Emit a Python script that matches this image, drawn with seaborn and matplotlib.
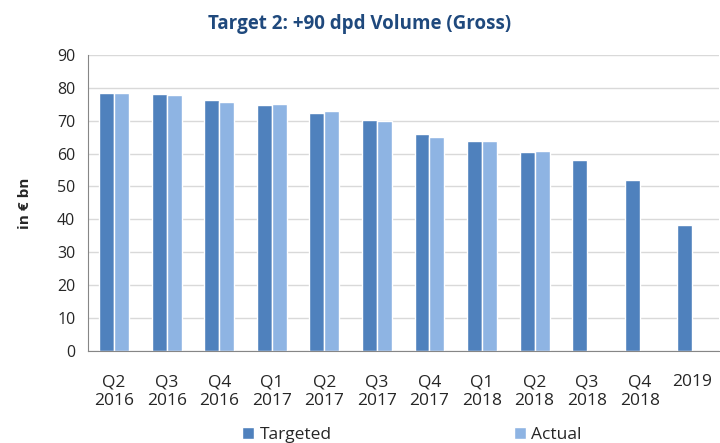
import matplotlib
matplotlib.use('Agg')
import matplotlib.pyplot as plt
import numpy as np
import pandas as pd
import seaborn as sns

# values (in € bn)
periods = ['Q2\n2016', 'Q3\n2016', 'Q4\n2016', 'Q1\n2017', 'Q2\n2017', 'Q3\n2017',
           'Q4\n2017', 'Q1\n2018', 'Q2\n2018', 'Q3\n2018', 'Q4\n2018', '2019']
targeted = [78.4, 78.1, 76.3, 74.8, 72.3, 70.2, 65.9, 63.9, 60.5, 58.0, 52.0, 38.4]
actual = [78.4, 77.8, 75.8, 75.0, 72.8, 69.9, 65.0, 63.9, 60.8, np.nan, np.nan, np.nan]

df = pd.DataFrame({
    'period': periods * 2,
    'value': targeted + actual,
    'series': ['Targeted'] * len(periods) + ['Actual'] * len(periods),
})

sns.set_style('white')
plt.rcParams['font.family'] = ['Open Sans', 'DejaVu Sans']

fig = plt.figure(figsize=(7.2, 4.43), dpi=100)
ax = fig.add_axes([0.122, 0.208, 0.876, 0.668])

sns.barplot(data=df, x='period', y='value', hue='series', order=periods,
            hue_order=['Targeted', 'Actual'],
            palette={'Targeted': '#4F81BD', 'Actual': '#8EB4E3'},
            width=0.57, gap=0, saturation=1, ax=ax, legend=True)

ax.set_ylim(0, 90)
ax.set_xlim(-0.5, len(periods) - 0.5)
ax.set_yticks(range(0, 91, 10))
ax.yaxis.grid(True, color='#D9D9D9', lw=1)
ax.set_axisbelow(True)

for s in ['top', 'right']:
    ax.spines[s].set_visible(False)
ax.spines['left'].set_color('#868686')
ax.spines['bottom'].set_color('#868686')

ax.tick_params(axis='y', length=5, color='#868686', labelsize=11.5, pad=4)
ax.tick_params(axis='x', which='major', length=0, labelsize=12.5, pad=17)
for lbl in ax.get_xticklabels():
    lbl.set_linespacing(1.25)
ax.set_xticks(np.arange(-0.5, len(periods), 1), minor=True)
ax.tick_params(axis='x', which='minor', length=6, color='#868686')

ax.set_xlabel('')
ax.set_ylabel('in € bn', fontsize=11, fontweight='bold', labelpad=18)

fig.suptitle('Target 2: +90 dpd Volume (Gross)', x=0.5, y=0.968,
             fontsize=13.5, fontweight='bold', color='#1F497D')

handles, labels = ax.get_legend_handles_labels()
ax.legend_.remove()
fig.legend(handles, labels, loc='lower center', bbox_to_anchor=(0.572, -0.035),
           ncol=2, frameon=False, fontsize=12.5, columnspacing=10.5,
           handlelength=0.7, handleheight=0.7, handletextpad=0.3)

plt.savefig('out.png', dpi=100)
